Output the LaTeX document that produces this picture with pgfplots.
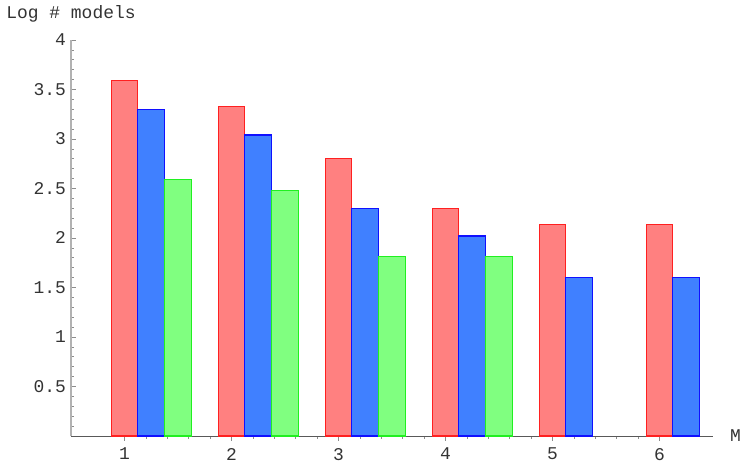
\documentclass[border=0pt]{standalone}
\usepackage{fontspec}
\setmainfont{Liberation Mono}
\usepackage{pgfplots}
\pgfplotsset{compat=1.18}

\definecolor{redfill}{HTML}{FF8080}
\definecolor{rededge}{HTML}{FF2020}
\definecolor{bluefill}{HTML}{4080FF}
\definecolor{blueedge}{HTML}{1010FF}
\definecolor{greenfill}{HTML}{80FF80}
\definecolor{greenedge}{HTML}{20F020}

\begin{document}
\fontsize{18pt}{21pt}\selectfont
\begin{tikzpicture}
    % fix page to the reference frame (747 x 462)
    \path[use as bounding box] (-71bp,-26bp) rectangle (676bp,436bp);
    \begin{axis}[
        scale only axis,
        width=642bp,
        height=396bp,
        at={(0,0)}, anchor=south west,
        xmin=0.5, xmax=6.5,
        ymin=0, ymax=4,
        axis lines*=left,
        x axis line style={draw=black!65, line width=0.9bp},
        y axis line style={draw=black!30, line width=1.4bp},
        xtick={1,2,3,4,5,6},
        minor x tick num=4,
        ytick={0.5,1,1.5,2,2.5,3,3.5,4},
        minor ytick={0.1,0.2,...,3.95},
        tick align=inside,
        major tick length=5bp,
        minor tick length=3bp,
        every tick/.style={draw=black!45, line width=0.7bp},
        every minor tick/.style={draw=black!45, line width=0.7bp},
        /pgf/number format/assume math mode=true,
        tick label style={font=\fontsize{18pt}{21pt}\selectfont, text=black!80},
        xticklabel style={yshift=-1bp},
        yticklabel style={xshift=1bp},
        ylabel={Log \# models},
        ylabel style={at={(rel axis cs:0,1)}, anchor=base, rotate=-90,
            yshift=22bp, font=\fontsize{18pt}{21pt}\selectfont, text=black!80},
        xlabel={M},
        xlabel style={at={(rel axis cs:1,0)}, anchor=west, xshift=11bp,
            font=\fontsize{18pt}{21pt}\selectfont, text=black!80},
        ybar,
        bar width=0.25,
        clip=false,
    ]
    \addplot[bar shift=0, fill=redfill, draw=rededge, line width=1.1bp] coordinates {
        (1, 3.59) (2, 3.33) (3, 2.80) (4, 2.30) (5, 2.14) (6, 2.14)
    };
    \addplot[bar shift=0.25, fill=bluefill, draw=blueedge, line width=1.1bp] coordinates {
        (1, 3.30) (2, 3.04) (3, 2.30) (4, 2.02) (5, 1.60) (6, 1.60)
    };
    \addplot[bar shift=0.5, fill=greenfill, draw=greenedge, line width=1.1bp] coordinates {
        (1, 2.59) (2, 2.48) (3, 1.81) (4, 1.81)
    };
    \end{axis}
\end{tikzpicture}
\end{document}
